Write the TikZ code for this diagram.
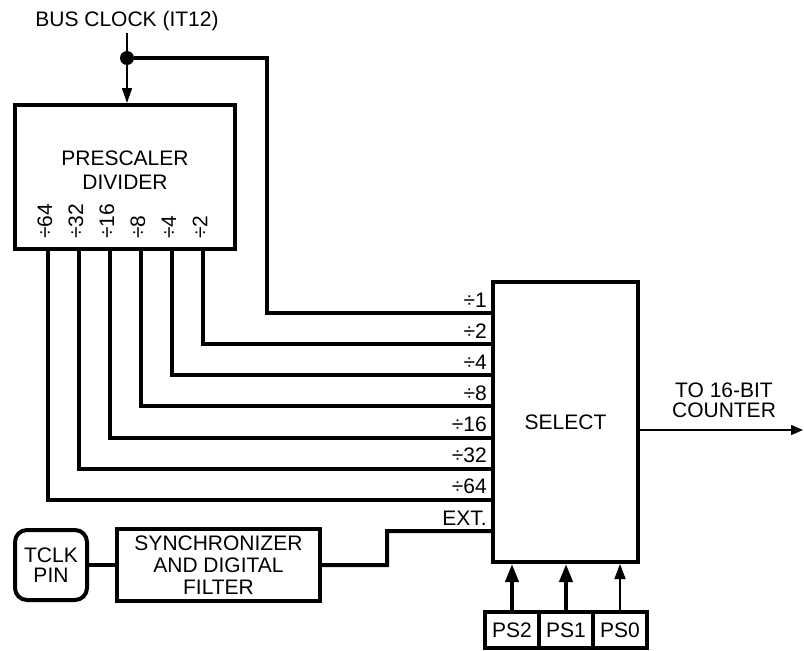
\documentclass[tikz,border=0pt]{standalone}
\usepackage{fontspec}
\setmainfont{Liberation Sans}
\usetikzlibrary{arrows.meta,calc}

\tikzset{
  wire/.style={line width=4pt},
  thinwire/.style={line width=1.5pt},
  blockbox/.style={draw,line width=4pt,inner sep=0pt},
}

\begin{document}
\begin{tikzpicture}[x=1pt,y=-1pt,font=\fontsize{21}{22}\selectfont]
  \useasboundingbox (0,0) rectangle (804,651);

  % prescaler and clock input
  \node[blockbox,minimum width=220pt,minimum height=144pt] (pre) at (125,177) {};
  \node[align=center,font=\fontsize{21}{24}\selectfont] (pretext) at (125,170) {PRESCALER\\DIVIDER};
  \node[inner sep=2pt] (bus) at (127,21) {BUS CLOCK (IT12)};
  \node[circle,fill,inner sep=0pt,minimum size=14pt] (clk) at (127,58) {};
  \draw[thinwire] (bus.south) -- (clk);
  \draw[thinwire,-{Triangle[length=15pt,width=10pt]}] (clk) -- (clk |- pre.north);

  % select block
  \node[blockbox,minimum width=145pt,minimum height=280pt] (sel) at (565.5,422) {SELECT};

  \foreach \i in {0,...,7} % edit here for the inputs
  \coordinate (s\i) at (493,{313+31.15*\i});

  \foreach \i/\dv in {0/1,1/2,2/4,3/8,4/16,5/32,6/64} % edit here for the input labels
  \node[anchor=base east,inner sep=0pt] (l\i) at ($(s\i)+(-6,-6)$) {÷\dv};
  \node[anchor=base east,inner sep=0pt] (lext) at ($(s7)+(-6,-6)$) {EXT.};

  % divide by one
  \coordinate (bend) at (267,313);
  \draw[wire] (clk) -| (bend) -- (s0);

  % prescaler outputs
  \foreach \i/\dv in {1/2,2/4,3/8,4/16,5/32,6/64} {
    \coordinate (p\i) at ({234-31*\i},249);
    \node[rotate=90,anchor=west,inner sep=0pt] (d\i) at ({231-31*\i},239) {÷\dv};
    \draw[wire] (p\i) |- (s\i);
  }

  % external clock
  \node[draw,line width=4pt,rounded corners=12pt,minimum width=72pt,minimum height=70pt,
    align=center,inner sep=0pt,font=\fontsize{21}{20}\selectfont] (tclk) at (51,565) {TCLK\\PIN};
  \node[blockbox,minimum width=203pt,minimum height=72pt,align=center] (sync) at (218.5,565)
    {SYNCHRONIZER\\AND DIGITAL\\FILTER};
  \draw[wire] (tclk.east) -- (tclk.east -| sync.west);
  \coordinate (jog) at (387,531);
  \draw[wire] (sync.east) -| (jog) -- (s7);

  % select bits
  \node[blockbox,minimum width=54pt,minimum height=36pt] (ps2) at (512,630) {PS2};
  \node[blockbox,minimum width=54pt,minimum height=36pt] (ps1) at (566,630) {PS1};
  \node[blockbox,minimum width=54pt,minimum height=36pt] (ps0) at (620,630) {PS0};
  \draw[wire,-{Triangle[length=18pt,width=13pt]}] (ps2.north) -- (ps2.north |- sel.south);
  \draw[wire,-{Triangle[length=18pt,width=13pt]}] (ps1.north) -- (ps1.north |- sel.south);
  \draw[thinwire,-{Triangle[length=15pt,width=11pt]}] (ps0.north) -- (ps0.north |- sel.south);

  % output
  \coordinate (out) at (803,430);
  \draw[thinwire,-{Triangle[length=12pt,width=10pt]}] (sel.east |- out) -- (out);
  \node[align=center,font=\fontsize{21}{20}\selectfont] (cnt) at (724,400) {TO 16-BIT\\COUNTER};

\end{tikzpicture}
\end{document}
